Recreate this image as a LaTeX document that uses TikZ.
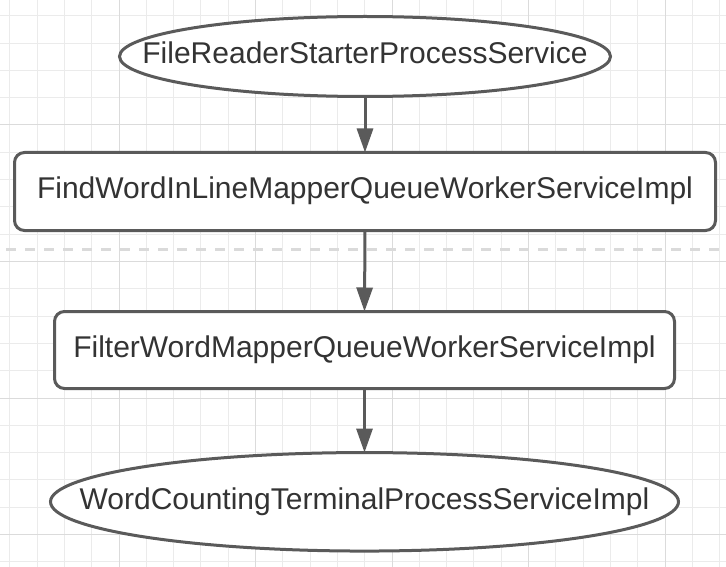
\documentclass[tikz,border=0pt]{standalone}
\usepackage{fontspec}
\setmainfont{Liberation Sans}
\usetikzlibrary{shapes.geometric,arrows.meta}
\definecolor{edgegray}{HTML}{5A5A5A}
\definecolor{textgray}{HTML}{333333}
\definecolor{gridminor}{HTML}{EBEBEB}
\definecolor{gridmajor}{HTML}{DBDBDB}
\definecolor{dashgray}{HTML}{DADADA}
\tikzset{
  flowtext/.style={text=textgray, inner sep=0pt, outer sep=0pt,
    font=\fontsize{30}{36}\selectfont, text height=22.5pt, text depth=8.1pt},
  flowbox/.style={draw=edgegray, line width=3pt, fill=white, flowtext},
  termnode/.style={flowbox, ellipse},
  procnode/.style={flowbox, rectangle, rounded corners=10pt},
  flowarrow/.style={draw=edgegray, line width=3pt, -{Triangle[length=24pt,width=16pt]}}
}

\begin{document}
\begin{tikzpicture}[x=1pt,y=-1pt]
\useasboundingbox (0,0) rectangle (726,567);
\fill[white] (0,0) rectangle (726,567);
\foreach \k in {0,...,26}
    \draw[gridminor, line width=1pt] ({9.8+27.3*\k},0) -- ({9.8+27.3*\k},567);
\foreach \k in {0,...,20}
    \draw[gridminor, line width=1pt] (0,{15.8+27.3*\k}) -- (726,{15.8+27.3*\k});
\foreach \k in {4,9,...,24}
    \draw[gridmajor, line width=1pt] ({9.8+27.3*\k},0) -- ({9.8+27.3*\k},567);
\foreach \k in {4,9,...,19}
    \draw[gridmajor, line width=1pt] (0,{15.8+27.3*\k}) -- (726,{15.8+27.3*\k});
\draw[dashgray, line width=3pt, dash pattern=on 10pt off 9pt] (6,249) -- (720,249);

\node[termnode, minimum width=491pt, minimum height=80pt,
    label={[flowtext]center:FileReaderStarterProcessService}] (start) at (365,56.5) {};
\node[procnode, minimum width=701pt, minimum height=78pt] (findword) at (365,191.5) {FindWordInLineMapperQueueWorkerServiceImpl};
\node[procnode, minimum width=620pt, minimum height=77pt] (filterword) at (364.5,350) {FilterWordMapperQueueWorkerServiceImpl};
\node[termnode, minimum width=628pt, minimum height=98.5pt,
    label={[flowtext]center:WordCountingTerminalProcessServiceImpl}] (counting) at (364.5,501.8) {};

\draw[flowarrow] (start.south) -- (findword.north);
\draw[flowarrow] (findword.south) -- (filterword.north);
\draw[flowarrow] (filterword.south) -- (counting.north);
\end{tikzpicture}
\end{document}
